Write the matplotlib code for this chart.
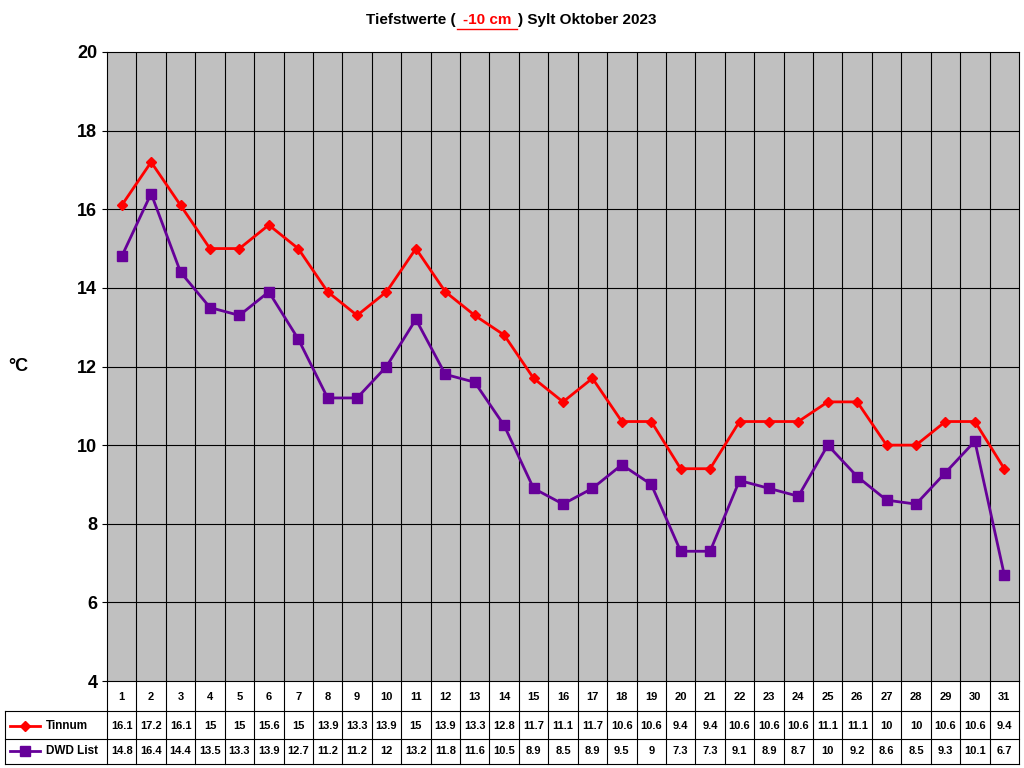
import matplotlib
matplotlib.use("Agg")
import matplotlib.pyplot as plt
from matplotlib.lines import Line2D

plt.rcParams['font.family'] = ['Liberation Sans', 'DejaVu Sans']

days = list(range(1, 32))
tinnum = [16.1,17.2,16.1,15,15,15.6,15,13.9,13.3,13.9,15,13.9,13.3,12.8,11.7,11.1,11.7,10.6,10.6,9.4,9.4,10.6,10.6,10.6,11.1,11.1,10,10,10.6,10.6,9.4]
dwd = [14.8,16.4,14.4,13.5,13.3,13.9,12.7,11.2,11.2,12,13.2,11.8,11.6,10.5,8.9,8.5,8.9,9.5,9,7.3,7.3,9.1,8.9,8.7,10,9.2,8.6,8.5,9.3,10.1,6.7]
series = [("Tinnum", tinnum, "#FF0000", "D", 5.5), ("DWD List", dwd, "#660099", "s", 6.5)]

W, H = 1024, 768
fig = plt.figure(figsize=(10.24, 7.68), dpi=100)
ax = fig.add_axes([107/W, 1-681/H, 912/W, 629/H])
ax.set_facecolor("#C0C0C0")
ax.set_xlim(0.5, 31.5)
ax.set_ylim(4, 20)
ax.set_yticks(range(4, 21, 2))
ax.set_yticklabels([str(v) for v in range(4, 21, 2)], fontsize=13, fontweight="bold")
ax.set_xticks([])
for y in range(6, 20, 2):
    ax.axhline(y, color="black", lw=0.8, zorder=1)
for b in range(1, 31):
    ax.axvline(b + 0.5, color="black", lw=0.8, zorder=1)
for sp in ax.spines.values():
    sp.set_linewidth(0.8)
for name, vals, c, m, ms in series:
    ax.plot(days, vals, color=c, lw=2, marker=m, ms=ms, zorder=3)

fig.text(8/W, 1-367/H, "°C", fontsize=13, fontweight="bold", va="center")

# data table
tr = ax.get_xaxis_transform()
def fy(py):
    return -(py - 681) / 629
xl = 0.5 - 102/(912/31)
for py in [711, 739, 764]:
    ax.plot([xl, 31.5], [fy(py)]*2, transform=tr, color="black", lw=0.8, clip_on=False)
ax.plot([xl, xl], [fy(711), fy(764)], transform=tr, color="black", lw=0.8, clip_on=False)
for b in range(0, 32):
    ax.plot([b+0.5]*2, [0, fy(764)], transform=tr, color="black", lw=0.8, clip_on=False)
for d in days:
    ax.text(d, fy(697), str(d), transform=tr, ha="center", va="center", fontsize=8, fontweight="bold", clip_on=False)
for (name, vals, c, m, ms), py in zip(series, [726, 751]):
    for d, v in zip(days, vals):
        ax.text(d, fy(py), f"{v:g}", transform=tr, ha="center", va="center", fontsize=8, fontweight="bold", clip_on=False)
    fig.add_artist(Line2D([10/W, 40/W], [1-py/H]*2, color=c, lw=2))
    fig.add_artist(Line2D([25/W], [1-py/H], color=c, marker=m, ms=ms, lw=0))
    fig.text(46/W, 1-py/H, name, fontsize=8.5, fontweight="bold", va="center")

# title
ty = 1-20/H
fig.text(456/W, ty, "Tiefstwerte (", ha="right", va="center", fontsize=11, fontweight="bold")
fig.text(487/W, ty, "-10 cm", ha="center", va="center", fontsize=11, fontweight="bold", color="#FF0000")
fig.text(518/W, ty, ") Sylt Oktober 2023", ha="left", va="center", fontsize=11, fontweight="bold")
fig.add_artist(Line2D([457/W, 517/W], [1-29/H]*2, color="#FF0000", lw=1))

fig.savefig("out.png", dpi=100)
